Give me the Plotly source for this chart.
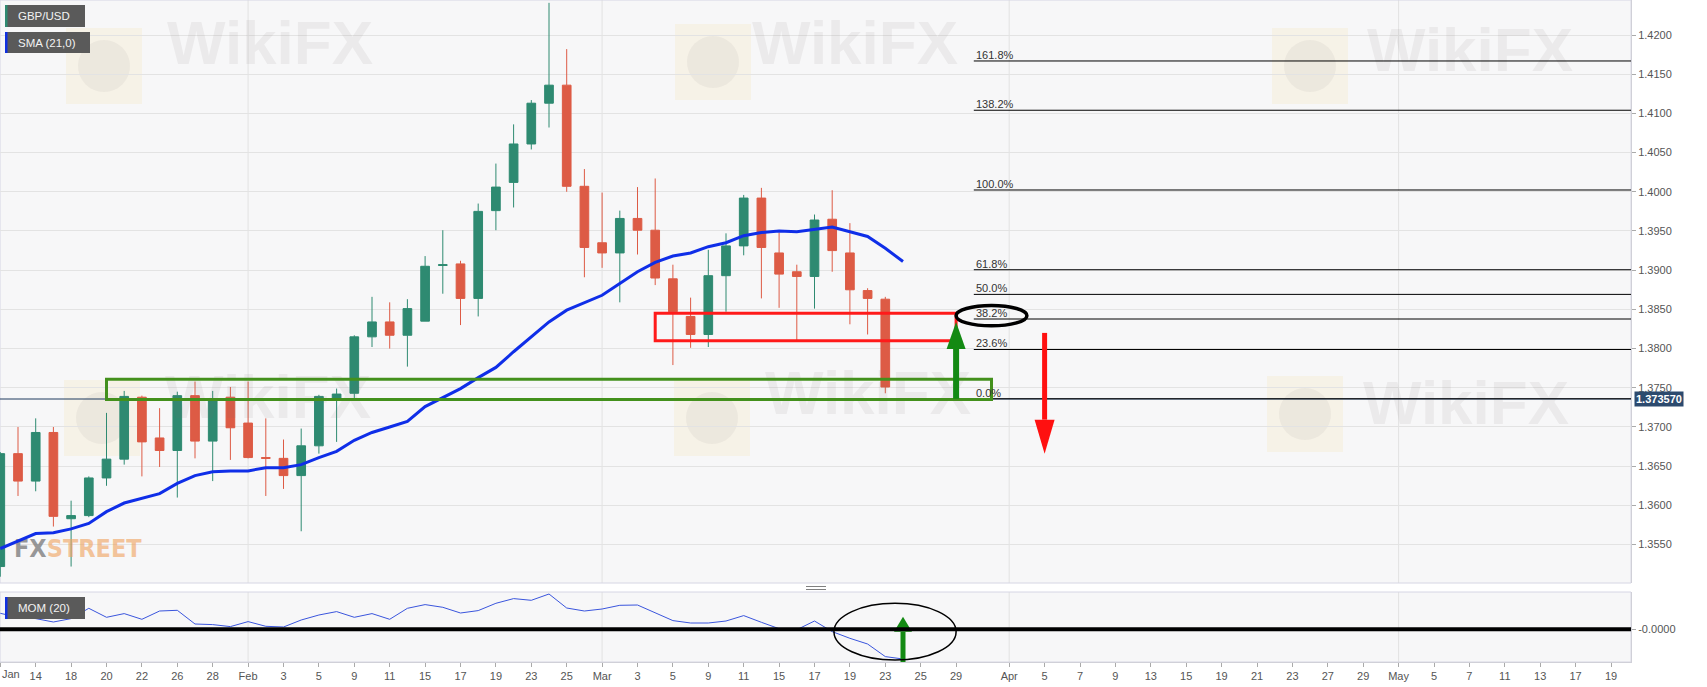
import pandas as pd
import plotly.graph_objects as go
from plotly.subplots import make_subplots

# ---------------- data ----------------
trading_days = pd.bdate_range("2021-01-12", "2021-05-19").strftime("%Y-%m-%d").tolist()

opens = [1.3522, 1.3666, 1.3631, 1.3693, 1.3583, 1.3587, 1.3635, 1.3659, 1.3738, 1.3686,
         1.3670, 1.3740, 1.3682, 1.3738, 1.3705, 1.3661, 1.3660, 1.3638, 1.3676, 1.3736,
         1.3743, 1.3815, 1.3834, 1.3817, 1.3835, 1.3906, 1.3908, 1.3864, 1.3976, 1.4012,
         1.4061, 1.4113, 1.4136, 1.4007, 1.3935, 1.3922, 1.3966, 1.3951, 1.3889, 1.3841,
         1.3818, 1.3893, 1.3931, 1.3992, 1.3922, 1.3898, 1.3892, 1.3965, 1.3922, 1.3874,
         1.3863]
highs = [1.3668, 1.3700, 1.3711, 1.3700, 1.3606, 1.3637, 1.3718, 1.3746, 1.3740, 1.3724,
         1.3745, 1.3758, 1.3746, 1.3751, 1.3758, 1.3711, 1.3684, 1.3698, 1.3741, 1.3749,
         1.3817, 1.3866, 1.3859, 1.3863, 1.3918, 1.3951, 1.3912, 1.3985, 1.4036, 1.4086,
         1.4117, 1.4241, 1.4182, 1.4029, 1.3999, 1.3976, 1.4006, 1.4017, 1.3907, 1.3865,
         1.3926, 1.3947, 1.3996, 1.4005, 1.3948, 1.3907, 1.3971, 1.4002, 1.3960, 1.3877,
         1.3866]
lows = [1.3509, 1.3612, 1.3618, 1.3573, 1.3522, 1.3585, 1.3625, 1.3652, 1.3637, 1.3649,
        1.3610, 1.3660, 1.3631, 1.3658, 1.3660, 1.3612, 1.3621, 1.3567, 1.3666, 1.3681,
        1.3737, 1.3802, 1.3800, 1.3777, 1.3835, 1.3870, 1.3830, 1.3841, 1.3951, 1.3980,
        1.4054, 1.4082, 1.4000, 1.3891, 1.3903, 1.3859, 1.3920, 1.3881, 1.3779, 1.3801,
        1.3802, 1.3847, 1.3919, 1.3864, 1.3852, 1.3811, 1.3851, 1.3898, 1.3831, 1.3818,
        1.3743]
closes = [1.3666, 1.3631, 1.3693, 1.3586, 1.3587, 1.3635, 1.3659, 1.3739, 1.3681, 1.3670,
          1.3740, 1.3682, 1.3734, 1.3699, 1.3661, 1.3660, 1.3638, 1.3676, 1.3739, 1.3742,
          1.3815, 1.3834, 1.3817, 1.3851, 1.3905, 1.3907, 1.3864, 1.3975, 1.4006, 1.4061,
          1.4113, 1.4136, 1.4007, 1.3929, 1.3922, 1.3966, 1.3951, 1.3890, 1.3847, 1.3818,
          1.3893, 1.3931, 1.3992, 1.3929, 1.3895, 1.3892, 1.3964, 1.3925, 1.3875, 1.3864,
          1.3751]

sma21 = [1.3545, 1.3555, 1.3564, 1.3565, 1.3570, 1.3577, 1.3592, 1.3603, 1.3609, 1.3615,
         1.3628, 1.3638, 1.3643, 1.3644, 1.3644, 1.3648, 1.3648, 1.3652, 1.3661, 1.3669,
         1.3683, 1.3693, 1.3700, 1.3707, 1.3726, 1.3738, 1.3749, 1.3763, 1.3776, 1.3796,
         1.3815, 1.3834, 1.3849, 1.3859, 1.3868, 1.3883, 1.3898, 1.3910, 1.3918, 1.3922,
         1.3930, 1.3935, 1.3944, 1.3948, 1.3950, 1.3949, 1.3952, 1.3955, 1.3949, 1.3943,
         1.3928, 1.3911]

mom20 = [0.0160, 0.0120, 0.0107, 0.0073, 0.0107, 0.0210, 0.0120, 0.0157, 0.0100, 0.0183,
         0.0190, 0.0053, 0.0047, 0.0027, 0.0077, 0.0030, 0.0023, 0.0093, 0.0143, 0.0177,
         0.0120, 0.0157, 0.0100, 0.0210, 0.0247, 0.0220, 0.0163, 0.0187, 0.0260, 0.0307,
         0.0290, 0.0353, 0.0213, 0.0183, 0.0203, 0.0240, 0.0243, 0.0167, 0.0087, 0.0063,
         0.0063, 0.0083, 0.0137, 0.0070, 0.0006, -0.0004, 0.0083, -0.0023, -0.0090, -0.0147,
         -0.0273, -0.0297]

tick_dates = ["2021-01-12", "2021-01-14", "2021-01-18", "2021-01-20", "2021-01-22", "2021-01-26",
              "2021-01-28", "2021-02-01", "2021-02-03", "2021-02-05", "2021-02-09", "2021-02-11",
              "2021-02-15", "2021-02-17", "2021-02-19", "2021-02-23", "2021-02-25", "2021-03-01",
              "2021-03-03", "2021-03-05", "2021-03-09", "2021-03-11", "2021-03-15", "2021-03-17",
              "2021-03-19", "2021-03-23", "2021-03-25", "2021-03-29", "2021-04-01", "2021-04-05",
              "2021-04-07", "2021-04-09", "2021-04-13", "2021-04-15", "2021-04-19", "2021-04-21",
              "2021-04-23", "2021-04-27", "2021-04-29", "2021-05-03", "2021-05-05", "2021-05-07",
              "2021-05-11", "2021-05-13", "2021-05-17", "2021-05-19"]
tick_labels = ["Jan", "14", "18", "20", "22", "26", "28", "Feb", "3", "5", "9", "11", "15", "17",
               "19", "23", "25", "Mar", "3", "5", "9", "11", "15", "17", "19", "23", "25", "29",
               "Apr", "5", "7", "9", "13", "15", "19", "21", "23", "27", "29", "May", "5", "7",
               "11", "13", "17", "19"]
month_starts = ["2021-02-01", "2021-03-01", "2021-04-01", "2021-05-03"]

price_ticks = [1.3550, 1.3600, 1.3650, 1.3700, 1.3750, 1.3800, 1.3850, 1.3900, 1.3950,
               1.4000, 1.4050, 1.4100, 1.4150, 1.4200]
last_price = 1.37357
last_price_text = "1.373570"

fib_low, fib_high = 1.3736, 1.40023
fib_ratios = [0.0, 0.236, 0.382, 0.5, 0.618, 1.0, 1.382, 1.618]
fib_labels = ["0.0%", "23.6%", "38.2%", "50.0%", "61.8%", "100.0%", "138.2%", "161.8%"]
fib_start = "2021-03-30"

support_zone = {"from": "2021-01-20", "to": "2021-03-31", "low": 1.3735, "high": 1.3761}
resist_zone = {"from": "2021-03-04", "to": "2021-03-29", "low": 1.3810, "high": 1.3845}
buy_arrow = {"date": "2021-03-29", "from": 1.3736, "to": 1.3834}
sell_arrow = {"date": "2021-04-05", "from": 1.3820, "to": 1.3666}
fib_circle = {"from": "2021-03-29", "to": "2021-04-02", "low": 1.3829, "high": 1.3855}
mom_circle = {"from": "2021-03-18", "to": "2021-03-29", "low": -0.0307, "high": 0.0260}
mom_arrow = {"date": "2021-03-24", "from": -0.0327, "to": 0.0126}

# ---------------- geometry helpers ----------------
pos = {d: i for i, d in enumerate(trading_days)}
X0, X1 = -0.017, 92.13
Y0, Y1 = 1.35010, 1.424464
M0, M1 = -0.0327, 0.0373
PLOT_W, PLOT_H, MAIN_H, MOM_H = 1631, 662, 583, 70
DXPX = (X1 - X0) / PLOT_W
DYPX = (Y1 - Y0) / MAIN_H
DMPX = (M1 - M0) / MOM_H


def px_x(px):
    return X0 + px * DXPX


def px_y(py):
    return Y1 - py * DYPX


def paper_x(px):
    return px / PLOT_W


def paper_y(py):
    return (PLOT_H - py) / PLOT_H


GREEN = "#2e8a71"
RED = "#dd5b45"
FONT = "Liberation Sans, Arial, sans-serif"

fig = make_subplots(rows=2, cols=1, shared_xaxes=True, vertical_spacing=0.01)

# watermarks (behind everything)
wm_px = [(270, 48), (855, 48), (1470, 55), (268, 402), (868, 398), (1466, 408)]
fig.add_trace(go.Scatter(
    x=[px_x(p[0]) for p in wm_px], y=[px_y(p[1]) for p in wm_px],
    mode="text", text=["<b>WikiFX</b>"] * len(wm_px),
    textfont=dict(family="Liberation Sans, Arial", size=62, color="rgba(120,110,110,0.09)"),
    hoverinfo="skip", showlegend=False), row=1, col=1)
fig.add_trace(go.Scatter(
    x=[px_x(14)], y=[px_y(551)], mode="text", textposition="middle right",
    text=["<b><span style='color:rgba(120,120,120,0.75)'>FX</span>"
          "<span style='color:rgba(240,160,90,0.6)'>STREET</span></b>"],
    textfont=dict(family="Liberation Sans Narrow, DejaVu Sans Condensed, Arial Narrow", size=25),
    hoverinfo="skip", showlegend=False), row=1, col=1)

cx = [pos[d] for d in trading_days[:len(opens)]]
fig.add_trace(go.Candlestick(
    x=cx, open=opens, high=highs, low=lows, close=closes,
    increasing=dict(line=dict(color=GREEN, width=1), fillcolor=GREEN),
    decreasing=dict(line=dict(color=RED, width=1), fillcolor=RED),
    whiskerwidth=0, hoverinfo="skip", showlegend=False, name="GBP/USD"), row=1, col=1)

ix = [pos[d] for d in trading_days[:len(sma21)]]
fig.add_trace(go.Scatter(x=ix, y=sma21, mode="lines", line=dict(color="#0f2ee8", width=3),
                         hoverinfo="skip", showlegend=False, name="SMA (21,0)"), row=1, col=1)
fig.add_trace(go.Scatter(x=ix, y=mom20, mode="lines", line=dict(color="#3a55dd", width=1),
                         hoverinfo="skip", showlegend=False, name="MOM (20)"), row=2, col=1)

shapes = []
# logo squares of the watermark
for (lx, ly) in [(104, 66), (713, 62), (1310, 66), (102, 418), (712, 418), (1305, 414)]:
    shapes.append(dict(type="rect", xref="paper", yref="paper", layer="below",
                       x0=paper_x(lx - 38), x1=paper_x(lx + 38), y0=paper_y(ly + 38), y1=paper_y(ly - 38),
                       fillcolor="rgba(250,212,100,0.11)", line=dict(width=0)))
    shapes.append(dict(type="circle", xref="paper", yref="paper", layer="below",
                       x0=paper_x(lx - 26), x1=paper_x(lx + 26), y0=paper_y(ly + 26), y1=paper_y(ly - 26),
                       fillcolor="rgba(140,130,130,0.09)", line=dict(width=0)))

# month grid lines in both panes
for m in month_starts:
    for yr in ("y domain", "y2 domain"):
        shapes.append(dict(type="line", xref="x", yref=yr, x0=pos[m], x1=pos[m], y0=0, y1=1,
                           line=dict(color="#e2e2e2", width=1), layer="below"))

# pane frames
for yr in ("y domain", "y2 domain"):
    shapes.append(dict(type="rect", xref="x domain", yref=yr, x0=0, x1=1, y0=0, y1=1,
                       line=dict(color="#d6d6e4", width=1), layer="below"))

# last price line
shapes.append(dict(type="line", xref="paper", yref="y", x0=0, x1=1, y0=last_price, y1=last_price,
                   line=dict(color="#1f3a5f", width=1), layer="below"))

# fibonacci levels
for r in fib_ratios:
    lvl = fib_low + r * (fib_high - fib_low)
    shapes.append(dict(type="line", xref="x", yref="y", x0=pos[fib_start], x1=X1, y0=lvl, y1=lvl,
                       line=dict(color="#000000", width=1), layer="above"))

# zones
shapes.append(dict(type="rect", xref="x", yref="y", x0=pos[support_zone["from"]], x1=pos[support_zone["to"]],
                   y0=support_zone["low"], y1=support_zone["high"], line=dict(color="#43901c", width=3),
                   layer="above"))
shapes.append(dict(type="rect", xref="x", yref="y", x0=pos[resist_zone["from"]], x1=pos[resist_zone["to"]],
                   y0=resist_zone["low"], y1=resist_zone["high"], line=dict(color="#ff1a1a", width=3),
                   layer="above"))


def arrow(a, color, xref, yref, dpx, head_h, head_w, shaft):
    xc = pos[a["date"]]
    sgn = 1 if a["to"] > a["from"] else -1
    base = a["to"] - sgn * head_h * dpx
    hw = head_w / 2 * DXPX
    out = [dict(type="line", xref=xref, yref=yref, x0=xc, x1=xc, y0=a["from"], y1=base,
                line=dict(color=color, width=shaft), layer="above"),
           dict(type="path", xref=xref, yref=yref, layer="above",
                path=f"M {xc - hw},{base} L {xc},{a['to']} L {xc + hw},{base} Z",
                fillcolor=color, line=dict(width=0))]
    return out


shapes += arrow(buy_arrow, "#138a13", "x", "y", DYPX, 27, 19, 6)
shapes += arrow(sell_arrow, "#ff1010", "x", "y", DYPX, 34, 20, 5)
shapes += arrow(mom_arrow, "#138a13", "x2", "y2", DMPX, 15, 18, 5)

shapes.append(dict(type="circle", xref="x", yref="y", x0=pos[fib_circle["from"]], x1=pos[fib_circle["to"]],
                   y0=fib_circle["low"], y1=fib_circle["high"], line=dict(color="#000000", width=3.5),
                   layer="above"))
shapes.append(dict(type="circle", xref="x2", yref="y2", x0=pos[mom_circle["from"]] + 0.1,
                   x1=pos[mom_circle["to"]], y0=mom_circle["low"], y1=mom_circle["high"],
                   line=dict(color="#000000", width=1.5), layer="above"))

# momentum zero line (drawn over the indicator)
shapes.append(dict(type="line", xref="paper", yref="y2", x0=0, x1=1, y0=0, y1=0,
                   line=dict(color="#000000", width=4), layer="above"))

# pane splitter handle
for py in (586.5, 589.5):
    shapes.append(dict(type="line", xref="paper", yref="paper", x0=paper_x(806), x1=paper_x(826),
                       y0=paper_y(py), y1=paper_y(py), line=dict(color="#808080", width=1),
                       layer="above"))

# legend tags
tags = [("GBP/USD", 5, 85, 5, 27, GREEN), ("SMA (21,0)", 5, 90, 32, 53, "#1030e0"),
        ("MOM (20)", 5, 85, 597, 619, "#1030e0")]
annotations = []
for text, x0, x1, y0, y1, stripe in tags:
    shapes.append(dict(type="rect", xref="paper", yref="paper", x0=paper_x(x0), x1=paper_x(x1),
                       y0=paper_y(y1), y1=paper_y(y0), fillcolor="#5a5a5a", line=dict(width=0),
                       layer="above"))
    shapes.append(dict(type="rect", xref="paper", yref="paper", x0=paper_x(x0), x1=paper_x(x0 + 2.5),
                       y0=paper_y(y1), y1=paper_y(y0), fillcolor=stripe, line=dict(width=0),
                       layer="above"))
    annotations.append(dict(xref="paper", yref="paper", x=paper_x(x0 + 11), y=paper_y((y0 + y1) / 2),
                            xanchor="left", yanchor="middle", text=text, showarrow=False,
                            font=dict(family=FONT, size=11.5, color="#f2f2f2")))

# fibonacci labels
for r, lab in zip(fib_ratios, fib_labels):
    lvl = fib_low + r * (fib_high - fib_low)
    annotations.append(dict(xref="x", yref="y", x=pos[fib_start], y=lvl, xanchor="left",
                            yanchor="bottom", yshift=-2, text=lab, showarrow=False,
                            font=dict(family=FONT, size=11, color="#333333")))

# last price tag
annotations.append(dict(xref="paper", yref="y", x=1, xshift=3, y=last_price, xanchor="left",
                        yanchor="middle", text=f"<b>{last_price_text}</b>", showarrow=False,
                        bgcolor="#2c4a6e", borderpad=1, font=dict(family=FONT, size=11, color="#ffffff")))

# first (clipped) month label placed inside the page
annotations.append(dict(xref="paper", yref="paper", x=0, y=paper_y(674), xanchor="left",
                        yanchor="middle", text=tick_labels[0], showarrow=False,
                        font=dict(family=FONT, size=11, color="#555555")))

fig.update_layout(
    width=1707, height=687,
    margin=dict(l=0, r=76, t=0, b=25),
    paper_bgcolor="#ffffff", plot_bgcolor="#f7f7f8",
    showlegend=False, shapes=shapes, annotations=annotations,
    font=dict(family=FONT, size=11, color="#555555"),
    xaxis=dict(range=[X0, X1], showticklabels=False, showgrid=False, zeroline=False,
               rangeslider=dict(visible=False), ticks=""),
    xaxis2=dict(range=[X0, X1], showgrid=False, zeroline=False,
                tickmode="array", tickvals=[pos[d] for d in tick_dates],
                ticktext=[""] + tick_labels[1:],
                ticks="outside", ticklen=4, tickcolor="#aaaaaa",
                showline=True, linecolor="#d0d0d8",
                tickfont=dict(family=FONT, size=11, color="#555555")),
    yaxis=dict(domain=[1 - MAIN_H / PLOT_H, 1], range=[Y0, Y1], side="right",
               tickmode="array", tickvals=price_ticks, tickformat=".4f",
               showgrid=True, gridcolor="#e3e3e3", zeroline=False,
               ticks="outside", ticklen=4, tickcolor="#aaaaaa",
               showline=True, linecolor="#d0d0d8",
               tickfont=dict(family=FONT, size=11, color="#555555")),
    yaxis2=dict(domain=[0, MOM_H / PLOT_H], range=[M0, M1], side="right",
                tickmode="array", tickvals=[0], ticktext=["-0.0000"],
                showgrid=False, zeroline=False,
                ticks="outside", ticklen=4, tickcolor="#aaaaaa",
                showline=True, linecolor="#d0d0d8",
                tickfont=dict(family=FONT, size=11, color="#555555")),
)

fig.write_html("out.html", config={"displayModeBar": False},
               post_script="document.body.style.margin='0px';")
